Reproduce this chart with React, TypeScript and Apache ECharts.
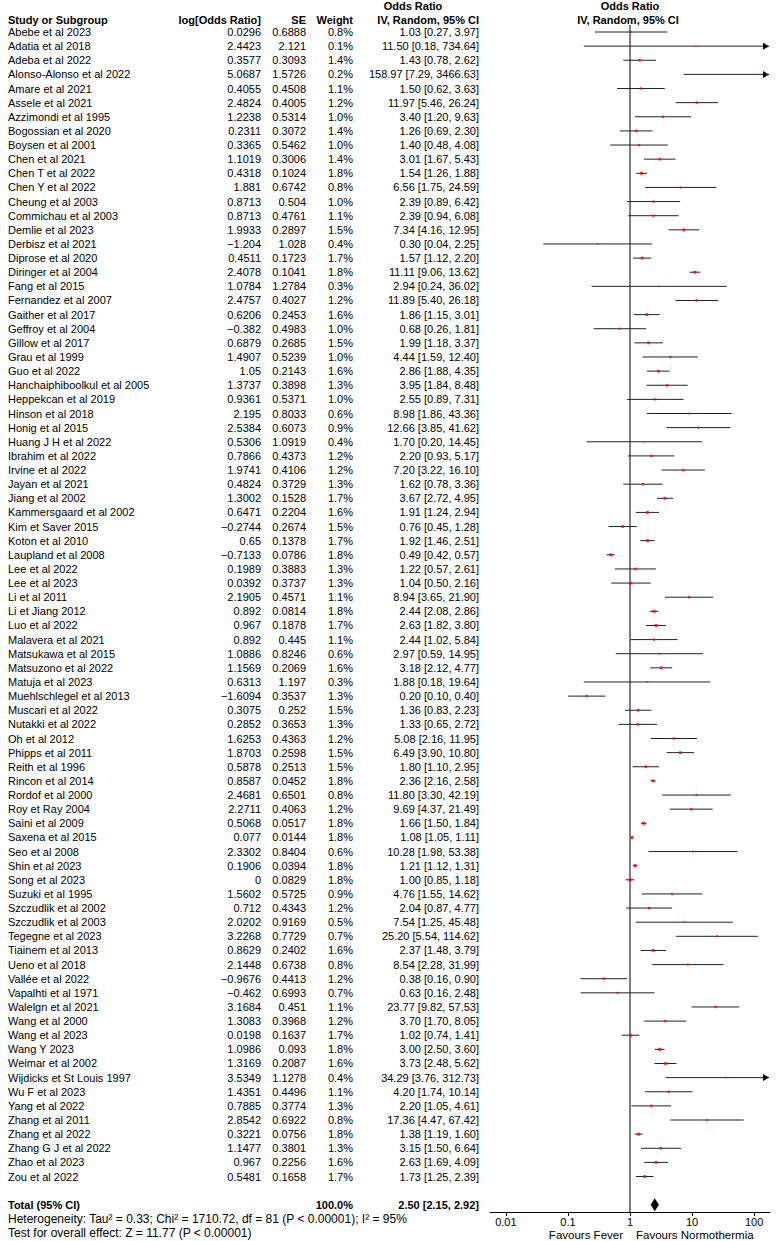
import React, { useEffect, useRef } from "react";
import * as echarts from "echarts";

// ---------- DATA ----------
const studies = [
  "Abebe et al 2023", "Adatia et al 2018", "Adeba et al 2022", "Alonso-Alonso et al 2022", "Amare et al 2021",
  "Assele et al 2021", "Azzimondi et al 1995", "Bogossian et al 2020", "Boysen et al 2001", "Chen et al 2021",
  "Chen T et al 2022", "Chen Y et al 2022", "Cheung et al 2003", "Commichau et al 2003", "Demlie et al 2023",
  "Derbisz et al 2021", "Diprose et al 2020", "Diringer et al 2004", "Fang et al 2015", "Fernandez et al 2007",
  "Gaither et al 2017", "Geffroy et al 2004", "Gillow et al 2017", "Grau et al 1999", "Guo et al 2022",
  "Hanchaiphiboolkul et al 2005", "Heppekcan et al 2019", "Hinson et al 2018", "Honig et al 2015", "Huang J H et al 2022",
  "Ibrahim et al 2022", "Irvine et al 2022", "Jayan et al 2021", "Jiang et al 2002", "Kammersgaard et al 2002",
  "Kim et Saver 2015", "Koton et al 2010", "Laupland et al 2008", "Lee et al 2022", "Lee et al 2023",
  "Li et al 2011", "Li et Jiang 2012", "Luo et al 2022", "Malavera et al 2021", "Matsukawa et al 2015",
  "Matsuzono et al 2022", "Matuja et al 2023", "Muehlschlegel et al 2013", "Muscari et al 2022", "Nutakki et al 2022",
  "Oh et al 2012", "Phipps et al 2011", "Reith et al 1996", "Rincon et al 2014", "Rordof et al 2000",
  "Roy et Ray 2004", "Saini et al 2009", "Saxena et al 2015", "Seo et al 2008", "Shin et al 2023",
  "Song et al 2023", "Suzuki et al 1995", "Szczudlik et al 2002", "Szczudlik et al 2003", "Tegegne et al 2023",
  "Tiainem et al 2013", "Ueno et al 2018", "Vallée et al 2022", "Vapalhti et al 1971", "Walelgn et al 2021",
  "Wang et al 2000", "Wang et al 2023", "Wang Y 2023", "Weimar et al 2002", "Wijdicks et St Louis 1997",
  "Wu F et al 2023", "Yang et al 2022", "Zhang et al 2011", "Zhang et al 2022", "Zhang G J et al 2022",
  "Zhao et al 2023", "Zou et al 2022",
];

const logOR = [
  0.0296, 2.4423, 0.3577, 5.0687, 0.4055, 2.4824, 1.2238, 0.2311, 0.3365, 1.1019,
  0.4318, 1.881, 0.8713, 0.8713, 1.9933, -1.204, 0.4511, 2.4078, 1.0784, 2.4757,
  0.6206, -0.382, 0.6879, 1.4907, 1.05, 1.3737, 0.9361, 2.195, 2.5384, 0.5306,
  0.7866, 1.9741, 0.4824, 1.3002, 0.6471, -0.2744, 0.65, -0.7133, 0.1989, 0.0392,
  2.1905, 0.892, 0.967, 0.892, 1.0886, 1.1569, 0.6313, -1.6094, 0.3075, 0.2852,
  1.6253, 1.8703, 0.5878, 0.8587, 2.4681, 2.2711, 0.5068, 0.077, 2.3302, 0.1906,
  0, 1.5602, 0.712, 2.0202, 3.2268, 0.8629, 2.1448, -0.9676, -0.462, 3.1684,
  1.3083, 0.0198, 1.0986, 1.3169, 3.5349, 1.4351, 0.7885, 2.8542, 0.3221, 1.1477,
  0.967, 0.5481,
];

const se = [
  0.6888, 2.121, 0.3093, 1.5726, 0.4508, 0.4005, 0.5314, 0.3072, 0.5462, 0.3006,
  0.1024, 0.6742, 0.504, 0.4761, 0.2897, 1.028, 0.1723, 0.1041, 1.2784, 0.4027,
  0.2453, 0.4983, 0.2685, 0.5239, 0.2143, 0.3898, 0.5371, 0.8033, 0.6073, 1.0919,
  0.4373, 0.4106, 0.3729, 0.1528, 0.2204, 0.2674, 0.1378, 0.0786, 0.3883, 0.3737,
  0.4571, 0.0814, 0.1878, 0.445, 0.8246, 0.2069, 1.197, 0.3537, 0.252, 0.3653,
  0.4363, 0.2598, 0.2513, 0.0452, 0.6501, 0.4063, 0.0517, 0.0144, 0.8404, 0.0394,
  0.0829, 0.5725, 0.4343, 0.9169, 0.7729, 0.2402, 0.6738, 0.4413, 0.6993, 0.451,
  0.3968, 0.1637, 0.093, 0.2087, 1.1278, 0.4496, 0.3774, 0.6922, 0.0756, 0.3801,
  0.2256, 0.1658,
];

const weights = [
  0.8, 0.1, 1.4, 0.2, 1.1, 1.2, 1.0, 1.4, 1.0, 1.4,
  1.8, 0.8, 1.0, 1.1, 1.5, 0.4, 1.7, 1.8, 0.3, 1.2,
  1.6, 1.0, 1.5, 1.0, 1.6, 1.3, 1.0, 0.6, 0.9, 0.4,
  1.2, 1.2, 1.3, 1.7, 1.6, 1.5, 1.7, 1.8, 1.3, 1.3,
  1.1, 1.8, 1.7, 1.1, 0.6, 1.6, 0.3, 1.3, 1.5, 1.3,
  1.2, 1.5, 1.5, 1.8, 0.8, 1.2, 1.8, 1.8, 0.6, 1.8,
  1.8, 0.9, 1.2, 0.5, 0.7, 1.6, 0.8, 1.2, 0.7, 1.1,
  1.2, 1.7, 1.8, 1.6, 0.4, 1.1, 1.3, 0.8, 1.8, 1.3,
  1.6, 1.7,
];

const orVals = [
  1.03, 11.5, 1.43, 158.97, 1.5, 11.97, 3.4, 1.26, 1.4, 3.01,
  1.54, 6.56, 2.39, 2.39, 7.34, 0.3, 1.57, 11.11, 2.94, 11.89,
  1.86, 0.68, 1.99, 4.44, 2.86, 3.95, 2.55, 8.98, 12.66, 1.7,
  2.2, 7.2, 1.62, 3.67, 1.91, 0.76, 1.92, 0.49, 1.22, 1.04,
  8.94, 2.44, 2.63, 2.44, 2.97, 3.18, 1.88, 0.2, 1.36, 1.33,
  5.08, 6.49, 1.8, 2.36, 11.8, 9.69, 1.66, 1.08, 10.28, 1.21,
  1.0, 4.76, 2.04, 7.54, 25.2, 2.37, 8.54, 0.38, 0.63, 23.77,
  3.7, 1.02, 3.0, 3.73, 34.29, 4.2, 2.2, 17.36, 1.38, 3.15,
  2.63, 1.73,
];

const ciLow = [
  0.27, 0.18, 0.78, 7.29, 0.62, 5.46, 1.2, 0.69, 0.48, 1.67,
  1.26, 1.75, 0.89, 0.94, 4.16, 0.04, 1.12, 9.06, 0.24, 5.4,
  1.15, 0.26, 1.18, 1.59, 1.88, 1.84, 0.89, 1.86, 3.85, 0.2,
  0.93, 3.22, 0.78, 2.72, 1.24, 0.45, 1.46, 0.42, 0.57, 0.5,
  3.65, 2.08, 1.82, 1.02, 0.59, 2.12, 0.18, 0.1, 0.83, 0.65,
  2.16, 3.9, 1.1, 2.16, 3.3, 4.37, 1.5, 1.05, 1.98, 1.12,
  0.85, 1.55, 0.87, 1.25, 5.54, 1.48, 2.28, 0.16, 0.16, 9.82,
  1.7, 0.74, 2.5, 2.48, 3.76, 1.74, 1.05, 4.47, 1.19, 1.5,
  1.69, 1.25,
];

const ciHigh = [
  3.97, 734.64, 2.62, 3466.63, 3.63, 26.24, 9.63, 2.3, 4.08, 5.43,
  1.88, 24.59, 6.42, 6.08, 12.95, 2.25, 2.2, 13.62, 36.02, 26.18,
  3.01, 1.81, 3.37, 12.4, 4.35, 8.48, 7.31, 43.36, 41.62, 14.45,
  5.17, 16.1, 3.36, 4.95, 2.94, 1.28, 2.51, 0.57, 2.61, 2.16,
  21.9, 2.86, 3.8, 5.84, 14.95, 4.77, 19.64, 0.4, 2.23, 2.72,
  11.95, 10.8, 2.95, 2.58, 42.19, 21.49, 1.84, 1.11, 53.38, 1.31,
  1.18, 14.62, 4.77, 45.48, 114.62, 3.79, 31.99, 0.9, 2.48, 57.53,
  8.05, 1.41, 3.6, 5.62, 312.73, 10.14, 4.61, 67.42, 1.6, 6.64,
  4.09, 2.39,
];

const totalLabel = "Total (95% CI)";
const totalWeight = 100.0;
const totalOR = 2.5;
const totalLow = 2.15;
const totalHigh = 2.92;

const tickValues = [0.01, 0.1, 1, 10, 100];
const tickLabels = ["0.01", "0.1", "1", "10", "100"];

const heterogeneityText = "Heterogeneity: Tau² = 0.33; Chi² = 1710.72, df = 81 (P < 0.00001); I² = 95%";
const overallText = "Test for overall effect: Z = 11.77 (P < 0.00001)";
const favoursLeft = "Favours Fever";
const favoursRight = "Favours Normothermia";

// ---------- LAYOUT ----------
const W = 778;
const H = 1241;
const ROW0 = 32;
const ROWH = 14.13;
const TOP = 25;
const AXISY = 1212;
const Y_MIN = (TOP - ROW0) / ROWH;
const Y_MAX = (AXISY - ROW0) / ROWH;
const TOTAL_ROW = studies.length + 1;
const PLOT_L = 490;
const PLOT_W = 280;
const X_MIN = Math.pow(10, -2.255);
const X_MAX = Math.pow(10, 2.255);
const TABLE_W = 488;
const FAMILY = '"Liberation Sans", Arial, Helvetica, sans-serif';
const fnt = (size: number, bold = false) => `${bold ? "bold " : ""}${size}px ${FAMILY}`;

const fmtNum = (v: number) => String(v).replace("-", "\u2212");
const fmtCI = (o: number, l: number, h: number) => `${o.toFixed(2)} [${l.toFixed(2)}, ${h.toFixed(2)}]`;

let measureCtx: CanvasRenderingContext2D | null = null;
function textWidth(s: string, font: string) {
  if (!measureCtx) measureCtx = document.createElement("canvas").getContext("2d");
  if (!measureCtx) return 0;
  measureCtx.font = font;
  return measureCtx.measureText(s).width;
}

function txt(text: string, x: number, y: number, align: string, bold = false, size = 11) {
  return {
    type: "text",
    x,
    y,
    silent: true,
    style: {
      text,
      font: fnt(size, bold),
      fill: "#000",
      align,
      verticalAlign: "middle",
    },
  };
}

// right-aligned text placed by measuring its width (left anchored)
function rtxt(text: string, xRight: number, y: number, bold = false, size = 11) {
  return txt(text, xRight - textWidth(text, fnt(size, bold)), y, "left", bold, size);
}

export default function App() {
  const ref = useRef<HTMLDivElement>(null);

  useEffect(() => {
    if (!ref.current) return;
    const chart = echarts.init(ref.current, null, { renderer: "svg" });

    const tableRows: number[][] = studies.map((_, i) => [0, i]);
    tableRows.push([0, TOTAL_ROW]);

    const option: any = {
      animation: false,
      backgroundColor: "#fff",
      grid: [
        { left: PLOT_L, top: TOP, width: PLOT_W, height: AXISY - TOP },
        { left: 0, top: TOP, width: TABLE_W, height: AXISY - TOP },
      ],
      xAxis: [
        {
          type: "log",
          gridIndex: 0,
          logBase: 10,
          min: X_MIN,
          max: X_MAX,
          axisLine: { show: true, onZero: false, lineStyle: { color: "#000", width: 1 } },
          axisTick: { show: true, customValues: tickValues, length: 4, inside: false, lineStyle: { color: "#000" } },
          axisLabel: {
            customValues: tickValues,
            color: "#000",
            fontSize: 11,
            fontFamily: FAMILY,
            margin: 4,
            formatter: (v: number) => {
              const k = Math.round(Math.log10(v));
              const idx = tickValues.findIndex((t) => Math.round(Math.log10(t)) === k);
              return idx >= 0 ? tickLabels[idx] : "";
            },
          },
          splitLine: { show: false },
          minorTick: { show: false },
        },
        { type: "value", gridIndex: 1, min: 0, max: TABLE_W, show: false },
      ],
      yAxis: [
        { type: "value", gridIndex: 0, inverse: true, min: Y_MIN, max: Y_MAX, show: false },
        { type: "value", gridIndex: 1, inverse: true, min: Y_MIN, max: Y_MAX, show: false },
      ],
      series: [
        {
          type: "line",
          xAxisIndex: 0,
          yAxisIndex: 0,
          data: [[1, Y_MIN], [1, Y_MAX]],
          symbol: "none",
          silent: true,
          lineStyle: { color: "#000", width: 1 },
          z: 1,
        },
        {
          type: "custom",
          xAxisIndex: 0,
          yAxisIndex: 0,
          silent: true,
          z: 2,
          data: studies.map((_, i) => [i, ciLow[i], ciHigh[i]]),
          encode: { x: [1, 2], y: 0 },
          renderItem: (params: any, api: any) => {
            const row = api.value(0);
            const p1 = api.coord([api.value(1), row]);
            const p2 = api.coord([api.value(2), row]);
            const cs = params.coordSys;
            const xMin = cs.x;
            const xMax = cs.x + cs.width;
            const y = p1[1];
            const x1 = Math.max(p1[0], xMin);
            const x2 = Math.min(p2[0], xMax - 1);
            const children: any[] = [
              { type: "line", shape: { x1, y1: y, x2, y2: y }, style: { stroke: "#222", lineWidth: 1 } },
            ];
            if (p2[0] > xMax) {
              children.push({
                type: "polygon",
                shape: { points: [[xMax - 1, y], [xMax - 7, y - 3.5], [xMax - 7, y + 3.5]] },
                style: { fill: "#000" },
              });
            }
            if (p1[0] < xMin) {
              children.push({
                type: "polygon",
                shape: { points: [[xMin, y], [xMin + 6, y - 3.5], [xMin + 6, y + 3.5]] },
                style: { fill: "#000" },
              });
            }
            return { type: "group", children };
          },
        },
        {
          type: "scatter",
          xAxisIndex: 0,
          yAxisIndex: 0,
          silent: true,
          z: 3,
          symbol: "rect",
          data: studies.map((_, i) => [orVals[i], i, weights[i]]),
          symbolSize: (val: number[]) => 1.2 + val[2] * 1.0,
          itemStyle: { color: "#ff0000" },
        },
        {
          type: "custom",
          xAxisIndex: 0,
          yAxisIndex: 0,
          silent: true,
          z: 3,
          data: [[totalOR, totalLow, totalHigh, TOTAL_ROW]],
          encode: { x: [0, 1, 2], y: 3 },
          renderItem: (params: any, api: any) => {
            const row = api.value(3);
            const c = api.coord([api.value(0), row]);
            const l = api.coord([api.value(1), row]);
            const h = api.coord([api.value(2), row]);
            const hh = 6.5;
            return {
              type: "polygon",
              shape: { points: [[l[0], c[1]], [c[0], c[1] - hh], [h[0], c[1]], [c[0], c[1] + hh]] },
              style: { fill: "#000" },
            };
          },
        },
        {
          type: "custom",
          xAxisIndex: 1,
          yAxisIndex: 1,
          silent: true,
          data: tableRows,
          encode: { x: 0, y: 1 },
          renderItem: (params: any, api: any) => {
            const i = params.dataIndex;
            const row = api.value(1);
            const y = api.coord([0, row])[1];
            const X = (px: number) => api.coord([px, row])[0];
            if (i < studies.length) {
              return {
                type: "group",
                children: [
                  txt(studies[i], X(8), y, "left"),
                  rtxt(fmtNum(logOR[i]), X(261), y),
                  rtxt(fmtNum(se[i]), X(306), y),
                  rtxt(weights[i].toFixed(1) + "%", X(353), y),
                  rtxt(fmtCI(orVals[i], ciLow[i], ciHigh[i]), X(479), y),
                ],
              };
            }
            return {
              type: "group",
              children: [
                txt(totalLabel, X(8), y, "left", true),
                rtxt(totalWeight.toFixed(1) + "%", X(353), y, true),
                rtxt(fmtCI(totalOR, totalLow, totalHigh), X(479), y, true),
              ],
            };
          },
        },
      ],
      graphic: [
        txt("Odds Ratio", 413, 6, "center", true),
        txt("Odds Ratio", 630, 6, "center", true),
        txt("Study or Subgroup", 8, 20, "left", true),
        rtxt("log[Odds Ratio]", 261, 20, true),
        rtxt("SE", 306, 20, true),
        rtxt("Weight", 353, 20, true),
        rtxt("IV, Random, 95% CI", 479, 20, true),
        txt("IV, Random, 95% CI", 628, 20, "center", true),
        txt(heterogeneityText, 8, 1219, "left", false, 12),
        txt(overallText, 8, 1233, "left", false, 12),
        rtxt(favoursLeft, 623, 1235, false, 11.5),
        txt(favoursRight, 636, 1235, "left", false, 11.5),
      ],
    };

    chart.setOption(option);
    return () => chart.dispose();
  }, []);

  return (
    <div
      ref={ref}
      style={{ position: "absolute", left: 0, top: 0, width: W, height: H, background: "#fff" }}
    />
  );
}
